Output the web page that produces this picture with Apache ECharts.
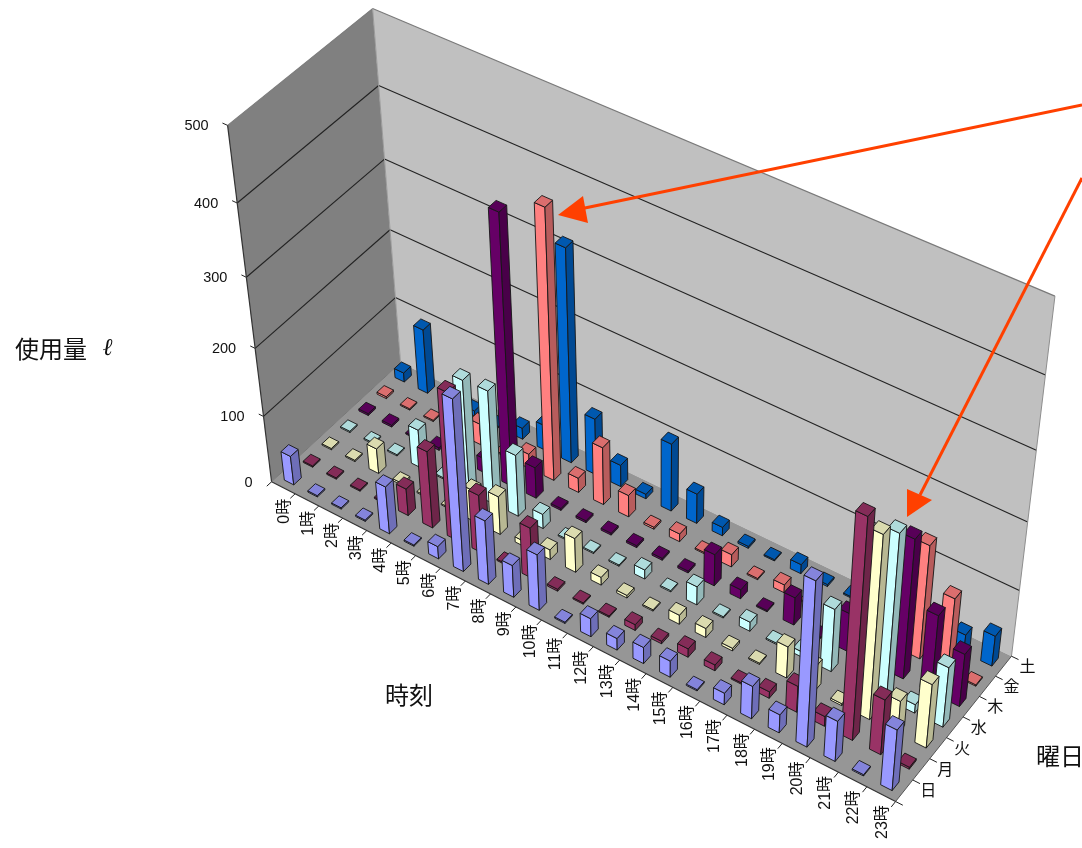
<!DOCTYPE html>
<html><head><meta charset="utf-8">
<style>html,body{margin:0;padding:0;background:#fff}#c{width:1082px;height:848px}</style>
<script src="https://cdn.jsdelivr.net/npm/echarts@6/dist/echarts.min.js"></script>
</head><body><div id="c"></div>
<script>
const hours = ['0時','1時','2時','3時','4時','5時','6時','7時','8時','9時','10時','11時','12時','13時','14時','15時','16時','17時','18時','19時','20時','21時','22時','23時'];
const days = ['日','月','火','水','木','金','土'];
const valueTicks = [0,100,200,300,400,500];
const dayColors = ['#9999FF','#993366','#FFFFCC','#CCFFFF','#660066','#FF8080','#0066CC'];
const sun = [44,2,2,2,72,2,19,255,97,49,85,2,28,18,25,25,2,18,50,28,246,62,2,93];
const mon = [2,2,2,2,41,116,220,88,2,77,3,2,2,9,4,13,9,2,10,40,15,325,84,3];
const tue = [2,2,38,3,2,2,48,58,8,15,52,12,4,2,14,14,4,2,48,38,3,272,50,97];
const wed = [2,2,2,58,2,168,170,93,22,2,2,2,14,2,28,2,14,2,8,95,2,245,13,91];
const thu = [3,3,2,4,2,22,393,47,3,3,3,3,3,3,48,14,2,42,2,58,2,208,117,80];
const fri = [3,2,2,2,32,2,22,392,22,87,33,3,12,2,19,2,12,2,6,2,2,170,112,2];
const sat = [14,97,2,8,2,17,38,314,85,33,7,102,45,13,3,2,14,3,2,2,2,2,27,46];
const usage = [sun,mon,tue,wed,thu,fri,sat];

// Scene calibration: [hour, day, value] -> picture position of the box corners.
const H = 24, D = 7, Z = 500, BAR = 0.4;
const anchors = [
  [0,0,0,271,481],[24,0,0,895,803],[24,7,0,1012,654],[0,7,0,401,366],
  [0,0,100,264,416],[0,0,200,255,348],[0,0,300,247,277],[0,0,400,237,203],[0,0,500,228,126],
  [0,7,100,395,296],[0,7,500,372,8],[24,7,500,1055,297]
];
function solve(A,b){const n=b.length,M=A.map((r,i)=>r.concat(b[i]));
  for(let i=0;i<n;i++){let p=i;for(let k=i+1;k<n;k++)if(Math.abs(M[k][i])>Math.abs(M[p][i]))p=k;
    [M[i],M[p]]=[M[p],M[i]];
    for(let k=0;k<n;k++){if(k===i)continue;const f=M[k][i]/M[i][i];for(let j=i;j<=n;j++)M[k][j]-=f*M[i][j];}}
  return M.map((r,i)=>r[n]/r[i]);}
const P=(function(){
  const rows=[],rhs=[];
  anchors.forEach(([x,y,z,u,v])=>{x/=H;y/=D;z/=Z;u/=1000;v/=1000;
    rows.push([x,y,z,1,0,0,0,0,-u*x,-u*y,-u*z]);rhs.push(u);
    rows.push([0,0,0,0,x,y,z,1,-v*x,-v*y,-v*z]);rhs.push(v);});
  const n=11,A=[],b=[];
  for(let i=0;i<n;i++){A.push([]);let s=0;for(let j=0;j<n;j++){let t=0;rows.forEach(r=>t+=r[i]*r[j]);A[i].push(t);}
    rows.forEach((r,k)=>s+=r[i]*rhs[k]);b.push(s);}
  return solve(A,b);
})();
function proj(x,y,z){x/=H;y/=D;z/=Z;const w=P[8]*x+P[9]*y+P[10]*z+1;
  return [1000*(P[0]*x+P[1]*y+P[2]*z+P[3])/w,1000*(P[4]*x+P[5]*y+P[6]*z+P[7])/w];}
function shade(hex,f){const n=parseInt(hex.slice(1),16);
  return 'rgb('+[n>>16&255,n>>8&255,n&255].map(c=>Math.round(c*f)).join(',')+')';}

// back-to-front drawing order: far days first, earlier hours first
const barData=[];
for(let d=days.length-1;d>=0;d--)for(let h=0;h<hours.length;h++)barData.push([h,d,usage[d][h]]);

function renderBar(p,api){
  const h=api.value(0),d=api.value(1),v=api.value(2),c=dayColors[d];
  const x0=h+.5-BAR/2,x1=h+.5+BAR/2,y0=d+.5-BAR/2,y1=d+.5+BAR/2;
  const st=f=>({fill:shade(c,f),stroke:'#151515',lineWidth:0.9,lineJoin:'round'});
  const poly=(pts,f)=>({type:'polygon',shape:{points:pts.map(q=>proj(q[0],q[1],q[2]))},style:st(f)});
  return {type:'group',children:[
    poly([[x0,y0,0],[x1,y0,0],[x1,y0,v],[x0,y0,v]],1),
    poly([[x1,y0,0],[x1,y1,0],[x1,y1,v],[x1,y0,v]],0.72),
    poly([[x0,y0,v],[x1,y0,v],[x1,y1,v],[x0,y1,v]],0.86)
  ]};
}
function renderBox(p,api){
  if(p.dataIndex>0) return null;
  const poly=(pts,fill)=>({type:'polygon',shape:{points:pts.map(q=>proj(q[0],q[1],q[2]))},style:{fill,stroke:null}});
  const line=(a,b,stroke,lw)=>{const s=proj(a[0],a[1],a[2]),e=proj(b[0],b[1],b[2]);
    return {type:'line',shape:{x1:s[0],y1:s[1],x2:e[0],y2:e[1]},style:{stroke,lineWidth:lw}};};
  const kids=[
    poly([[0,0,0],[0,7,0],[0,7,Z],[0,0,Z]],'#808080'),
    poly([[0,7,0],[24,7,0],[24,7,Z],[0,7,Z]],'#C0C0C0'),
    poly([[0,0,0],[24,0,0],[24,7,0],[0,7,0]],'#969696')
  ];
  valueTicks.forEach(t=>{ if(t===0) return;
    const col=t===Z?'#7a7a7a':'#222';
    kids.push(line([0,0,t],[0,7,t],col,1.1));
    kids.push(line([0,7,t],[24,7,t],col,1.1));
    kids.push(line([0,0,t],[-0.2,0,t],'#222',1));
  });
  kids.push(line([0,0,0],[0,0,Z],'#333',1.2));
  kids.push(line([0,7,0],[0,7,Z],'#9a9a9a',1));
  kids.push(line([24,7,0],[24,7,Z],'#8e8e8e',1));
  kids.push(line([0,0,0],[24,0,0],'#333',1.2));
  kids.push(line([24,0,0],[24,7,0],'#555',1));
  kids.push(line([0,0,0],[0,7,0],'#777',1));
  for(let h=0;h<=24;h++)kids.push(line([h,0,0],[h,-0.25,0],'#222',1));
  for(let d=0;d<=7;d++)kids.push(line([24,d,0],[24.25,d,0],'#222',1));
  return {type:'group',children:kids};
}
const FONT='"Liberation Sans","Noto Sans CJK JP",sans-serif';
function renderHourLabel(p,api){
  const q=proj(api.value(0)+.5,0,0);
  return {type:'text',x:q[0]+1.5,y:q[1]+11,rotation:Math.PI/2,
    style:{text:hours[api.value(0)],font:'16px '+FONT,fill:'#111',align:'right',verticalAlign:'middle'}};
}
function renderDayLabel(p,api){
  const q=proj(24,api.value(0)+.5,0);
  return {type:'text',x:q[0]+24,y:q[1]+1,
    style:{text:days[api.value(0)],font:'16px '+FONT,fill:'#111',align:'center',verticalAlign:'middle'}};
}
function renderValueLabel(p,api){
  const q=proj(0,0,api.value(0));
  return {type:'text',x:q[0]-19,y:q[1]+1,
    style:{text:String(api.value(0)),font:'14.5px '+FONT,fill:'#111',align:'right',verticalAlign:'middle'}};
}
const custom=(id,data,fn,z)=>({type:'custom',id,coordinateSystem:'none',data,renderItem:fn,z,silent:true,animation:false,clip:false});
const arrowStyle={stroke:'#FF4000',lineWidth:3};
const nameFont='24px "Noto Sans CJK JP",sans-serif';
const chart=echarts.init(document.getElementById('c'),null,{renderer:'canvas'});
chart.setOption({
  animation:false,backgroundColor:'#fff',
  series:[
    custom('box',[[0]],renderBox,1),
    custom('bars',barData,renderBar,2),
    custom('hourLabels',hours.map((_,i)=>[i]),renderHourLabel,3),
    custom('dayLabels',days.map((_,i)=>[i]),renderDayLabel,3),
    custom('valueLabels',valueTicks.map(v=>[v]),renderValueLabel,3)
  ],
  graphic:[
    {type:'text',left:15,top:337,z:10,style:{text:'使用量',font:nameFont,fill:'#111'}},
    {type:'text',left:103,top:337,z:10,style:{text:'ℓ',font:'italic bold 24px "DejaVu Serif",serif',fill:'#111'}},
    {type:'text',left:385,top:683,z:10,style:{text:'時刻',font:nameFont,fill:'#111'}},
    {type:'text',left:1036,top:744,z:10,style:{text:'曜日',font:nameFont,fill:'#111'}},
    {type:'line',z:20,shape:{x1:1082,y1:105,x2:580,y2:209},style:arrowStyle},
    {type:'polygon',z:20,shape:{points:[[558,215],[583,196],[588,223]]},style:{fill:'#FF4000'}},
    {type:'line',z:20,shape:{x1:1082,y1:178,x2:920,y2:495},style:arrowStyle},
    {type:'polygon',z:20,shape:{points:[[907,517],[907,489],[932,500]]},style:{fill:'#FF4000'}}
  ]
});
</script></body></html>
